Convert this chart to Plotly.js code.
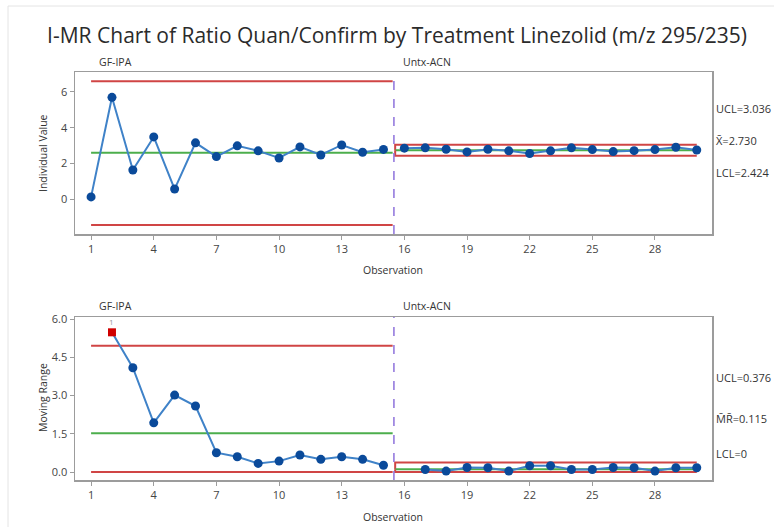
<!DOCTYPE html>
<html>
<head>
<meta charset="utf-8">
<script src="https://cdn.plot.ly/plotly-3.0.1.min.js"></script>
<style>
  html, body { margin: 0; padding: 0; background: #ffffff; }
  #chart { width: 774px; height: 527px; }
</style>
</head>
<body>
<div id="chart"></div>
<script>
// Stage names
const stages = ["GF-IPA", "Untx-ACN"];

// Individual values per stage
const obsGF = [1, 2, 3, 4, 5, 6, 7, 8, 9, 10, 11, 12, 13, 14, 15];
const indivGF = [0.12, 5.70, 1.63, 3.48, 0.56, 3.15, 2.38, 2.98, 2.70, 2.30, 2.92, 2.47, 3.03, 2.62, 2.78];
const obsACN = [16, 17, 18, 19, 20, 21, 22, 23, 24, 25, 26, 27, 28, 29, 30];
const indivACN = [2.85, 2.87, 2.79, 2.64, 2.79, 2.70, 2.55, 2.70, 2.87, 2.77, 2.66, 2.71, 2.77, 2.90, 2.75];

// Moving ranges per stage
const mrObsGF = [2, 3, 4, 5, 6, 7, 8, 9, 10, 11, 12, 13, 14, 15];
const mrGF = [5.48, 4.09, 1.93, 3.02, 2.59, 0.76, 0.60, 0.34, 0.43, 0.67, 0.50, 0.60, 0.50, 0.27];
const mrObsACN = [17, 18, 19, 20, 21, 22, 23, 24, 25, 26, 27, 28, 29, 30];
const mrACN = [0.10, 0.04, 0.18, 0.17, 0.04, 0.25, 0.25, 0.10, 0.10, 0.18, 0.17, 0.04, 0.17, 0.17];

// Control limits [UCL, CL, LCL] per stage
const iLimitsGF = [6.60, 2.60, -1.45];
const iLimitsACN = [3.036, 2.730, 2.424];
const mrLimitsGF = [4.95, 1.52, 0];
const mrLimitsACN = [0.376, 0.115, 0];

// Tick labels
const xTicks = [1, 4, 7, 10, 13, 16, 19, 22, 25, 28];
const iTicks = [0, 2, 4, 6];
const mrTicks = [0, 1.5, 3, 4.5, 6];

const stageBreak = 15.5;
const firstObs = 1, lastObs = 30;

const RED = "#d04545", GREEN = "#4cae4c", LINE = "#3f82c8", DOT = "#0a4a9a", SQUARE = "#d00000";
const FONT = "Open Sans, Noto Sans, sans-serif";

function limitTraces(xa, ya, limGF, limACN) {
  const out = [];
  const colors = [RED, GREEN, RED];
  for (let i = 0; i < 3; i++) {
    out.push({
      x: [firstObs, stageBreak - 0.06], y: [limGF[i], limGF[i]],
      xaxis: xa, yaxis: ya, mode: "lines", hoverinfo: "skip",
      line: { color: colors[i], width: 2 }, showlegend: false
    });
    const xs = i === 1 ? [stageBreak + 0.06, lastObs] : [stageBreak + 0.06, stageBreak + 0.06, lastObs];
    const ys = i === 1 ? [limACN[1], limACN[1]] : [limACN[1], limACN[i], limACN[i]];
    out.push({
      x: xs, y: ys, xaxis: xa, yaxis: ya, mode: "lines", hoverinfo: "skip",
      line: { color: colors[i], width: 2 }, showlegend: false
    });
  }
  return out;
}

function seriesTrace(xs, ys, xa, ya, ucl) {
  return {
    x: xs, y: ys, xaxis: xa, yaxis: ya, mode: "lines+markers", showlegend: false,
    line: { color: LINE, width: 2 },
    marker: {
      size: ys.map(v => v > ucl ? 8 : 9),
      symbol: ys.map(v => v > ucl ? "square" : "circle"),
      color: ys.map(v => v > ucl ? SQUARE : DOT),
      opacity: 1,
      line: { width: 0 }
    }
  };
}

const traces = [].concat(
  limitTraces("x", "y", iLimitsGF, iLimitsACN),
  limitTraces("x2", "y2", mrLimitsGF, mrLimitsACN),
  [
    seriesTrace(obsGF, indivGF, "x", "y", iLimitsGF[0]),
    seriesTrace(obsACN, indivACN, "x", "y", iLimitsACN[0]),
    seriesTrace(mrObsGF, mrGF, "x2", "y2", mrLimitsGF[0]),
    seriesTrace(mrObsACN, mrACN, "x2", "y2", mrLimitsACN[0])
  ]
);

const W = 774, H = 527;
const px = v => v / W;
const py = v => 1 - v / H;

const frame = { showline: true, mirror: true, linecolor: "#9c9c9c", linewidth: 1.5,
  ticks: "outside", ticklen: 4, tickcolor: "#9c9c9c", showgrid: false, zeroline: false,
  tickfont: { family: FONT, size: 11, color: "#444" } };

const xCommon = Object.assign({}, frame, {
  range: [0.23, 30.73], tickmode: "array", tickvals: xTicks, domain: [px(75), px(712)]
});

const labelFont = { family: FONT, size: 11, color: "#333" };
const smallFont = { family: FONT, size: 10.5, color: "#333" };

function ann(text, x, y, opts) {
  return Object.assign({ text: text, x: x, y: y, xref: "paper", yref: "paper",
    showarrow: false, xanchor: "left", yanchor: "middle", font: labelFont }, opts || {});
}

// Test 1 failure label on moving ranges above the upper limit
const failLabels = [];
mrGF.forEach((v, i) => {
  if (v > mrLimitsGF[0]) {
    failLabels.push({ text: "1", x: mrObsGF[i], y: v + 0.42, xref: "x2", yref: "y2",
      showarrow: false, yanchor: "middle", font: { family: FONT, size: 8, color: "#999" } });
  }
});

const layout = {
  width: W, height: H,
  margin: { l: 0, r: 0, t: 0, b: 0 },
  paper_bgcolor: "#ffffff", plot_bgcolor: "#ffffff",
  showlegend: false,
  title: { text: "I-MR Chart of Ratio Quan/Confirm by Treatment Linezolid (m/z 295/235)",
    x: px(397), xanchor: "center", y: py(36), yanchor: "middle", xref: "paper", yref: "paper",
    font: { family: FONT, size: 21, color: "#2b2b2b" } },
  xaxis: Object.assign({}, xCommon, { anchor: "y" }),
  yaxis: Object.assign({}, frame, { range: [-1.96, 7.12], tickmode: "array", tickvals: iTicks,
    domain: [py(234), py(72)], anchor: "x" }),
  xaxis2: Object.assign({}, xCommon, { anchor: "y2" }),
  yaxis2: Object.assign({}, frame, { range: [-0.31, 6.08], tickmode: "array", tickvals: mrTicks,
    tickformat: ".1f", domain: [py(480), py(317)], anchor: "x2" }),
  shapes: [
    { type: "rect", xref: "paper", yref: "paper", x0: px(8), x1: 1.02, y0: -0.02, y1: py(6),
      line: { color: "#e4e4e4", width: 1 }, fillcolor: "rgba(0,0,0,0)", layer: "below" },
    { type: "line", xref: "x", yref: "y domain", x0: stageBreak, x1: stageBreak, y0: 0, y1: 1,
      line: { color: "#8e72dc", width: 1.5, dash: "dash" } },
    { type: "line", xref: "x2", yref: "y2 domain", x0: stageBreak, x1: stageBreak, y0: 0, y1: 1,
      line: { color: "#8e72dc", width: 1.5, dash: "dash" } }
  ],
  annotations: [
    ann(stages[0], px(97), py(62), { font: smallFont }),
    ann(stages[1], px(401), py(62), { font: smallFont }),
    ann(stages[0], px(97), py(306), { font: smallFont }),
    ann(stages[1], px(401), py(306), { font: smallFont }),
    ann("UCL=" + iLimitsACN[0].toFixed(3), px(714), py(108)),
    ann("X\u0304=" + iLimitsACN[1].toFixed(3), px(714), py(140)),
    ann("LCL=" + iLimitsACN[2].toFixed(3), px(714), py(172)),
    ann("UCL=" + mrLimitsACN[0].toFixed(3), px(714), py(377)),
    ann("M\u0304R\u0304=" + mrLimitsACN[1].toFixed(3), px(714), py(418)),
    ann("LCL=" + mrLimitsACN[2], px(714), py(453)),
    ann("Individual Value", px(43), py(153), { xanchor: "center", textangle: -90, font: smallFont }),
    ann("Moving Range", px(43), py(398), { xanchor: "center", textangle: -90, font: smallFont }),
    ann("Observation", px(393), py(270), { xanchor: "center", font: smallFont }),
    ann("Observation", px(393), py(517), { xanchor: "center", font: smallFont })
  ].concat(failLabels)
};

Plotly.newPlot("chart", traces, layout, { displayModeBar: false, staticPlot: true });
</script>
</body>
</html>
